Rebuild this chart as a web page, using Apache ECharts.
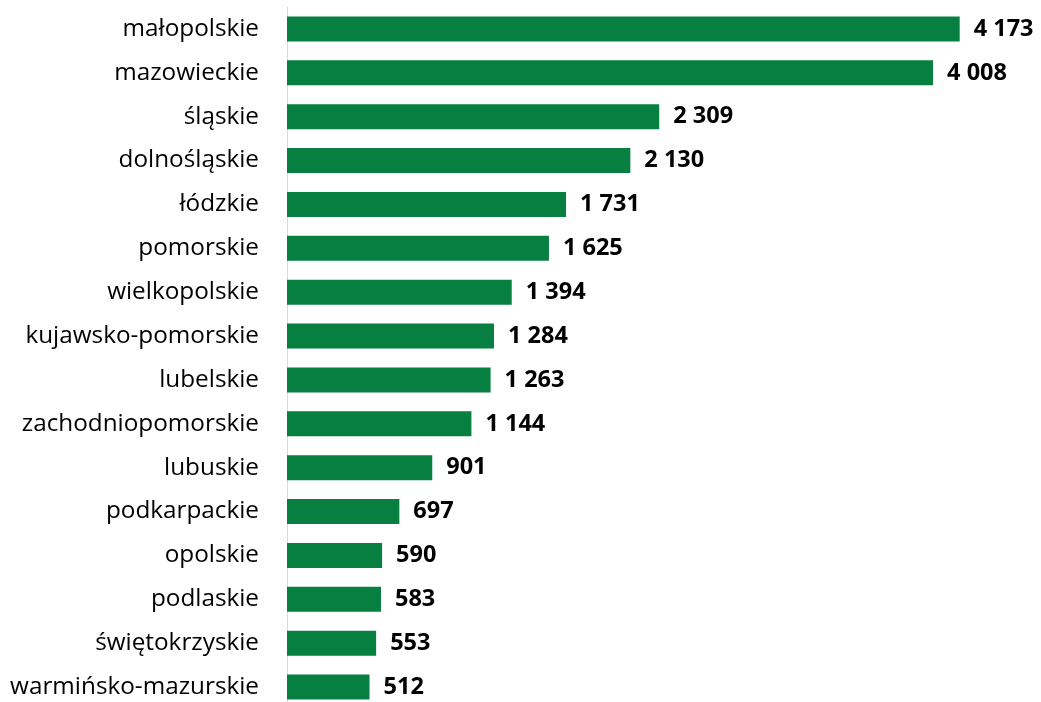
<!DOCTYPE html>
<html><head><meta charset="utf-8">
<script src="https://cdn.jsdelivr.net/npm/echarts@6/dist/echarts.min.js"></script>
<style>html,body{margin:0;padding:0;background:#fff}#c{width:1041px;height:702px}</style>
</head><body><div id="c"></div>
<script>
const categories = ["małopolskie","mazowieckie","śląskie","dolnośląskie","łódzkie","pomorskie","wielkopolskie","kujawsko-pomorskie","lubelskie","zachodniopomorskie","lubuskie","podkarpackie","opolskie","podlaskie","świętokrzyskie","warmińsko-mazurskie"];
const values = [4173,4008,2309,2130,1731,1625,1394,1284,1263,1144,901,697,590,583,553,512];
const fmt = v => String(v).replace(/\B(?=(\d{3})+(?!\d))/g, ' ');
const chart = echarts.init(document.getElementById('c'));
chart.setOption({
  animation:false,
  grid:{left:287, top:7, width:806, height:702, outerBoundsMode:'none', containLabel:false},
  xAxis:{type:'value', min:0, max:5000, show:false},
  yAxis:{type:'category', data:categories, inverse:true,
    axisLine:{show:true, lineStyle:{color:'#d9d9d9', width:1}},
    axisTick:{show:false},
    axisLabel:{margin:28, fontSize:24.3, color:'#000', fontFamily:'Open Sans'}},
  series:[{type:'bar', data:values, barWidth:25, itemStyle:{color:'#067f40'},
    label:{show:true, position:'right', distance:14, formatter:p=>fmt(p.value),
      fontSize:23.5, fontWeight:'bold', color:'#000', fontFamily:'Open Sans'}}]
});
</script></body></html>
